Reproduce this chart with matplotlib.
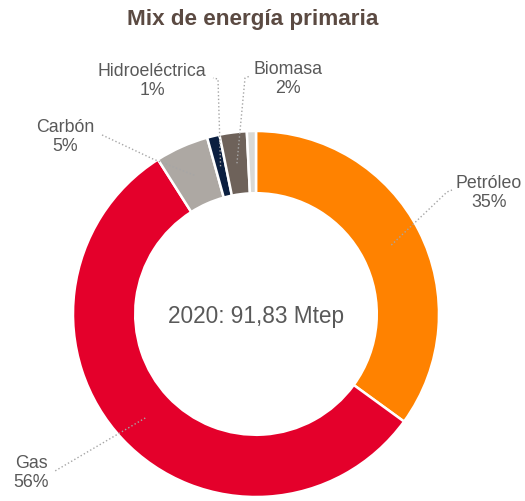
import numpy as np
import matplotlib
matplotlib.use('Agg')
import matplotlib.pyplot as plt

# Data (percent of primary energy, 2020)
labels = ['Petróleo', 'Gas', 'Carbón', 'Hidroeléctrica', 'Biomasa', 'Otros']
values = [35.0, 56.0, 4.7, 1.1, 2.4, 0.8]
pct_text = ['35%', '56%', '5%', '1%', '2%', '']
colors = ['#FF8200', '#E4002B', '#ADA8A3', '#0B1F40', '#6E625A', '#D9D9D6']
total_text = '2020: 91,83 Mtep'

plt.rcParams['font.family'] = ['Liberation Sans', 'DejaVu Sans']

W, H = 525, 502
fig = plt.figure(figsize=(W / 100, H / 100), dpi=100)
ax = fig.add_axes([0, 0, 1, 1])

# pixel geometry of the donut
cx, cy, R = 256, 315, 183


def px(x, y):
    # pixel (from top-left) -> data units (radius 1 = R px)
    return (x - cx) / R, (cy - y) / R


wedges, _ = ax.pie(values, colors=colors, startangle=90, counterclock=False,
                   radius=1, wedgeprops=dict(width=0.34, edgecolor='white', linewidth=1.8))

ax.set_xlim(-cx / R, (W - cx) / R)
ax.set_ylim((cy - H) / R, cy / R)
ax.set_aspect('auto')
ax.axis('off')

# label layout: text centre (px), leader path after the wedge anchor (px)
layout = {
    'Petróleo': ((489, 193), [(447, 193), (452, 191)]),
    'Gas': ((31, 473), [(55, 472)]),
    'Carbón': ((65, 137), [(153, 160), (100, 135)]),
    'Hidroeléctrica': ((152, 81), [(218, 80), (213, 79)]),
    'Biomasa': ((288, 79), [(245, 79), (250, 77)]),
}

line_col = '#A6A6A6'
txt_col = '#595959'
for w, lab, pct in zip(wedges, labels, pct_text):
    if lab not in layout:
        continue
    ang = np.deg2rad((w.theta1 + w.theta2) / 2)
    r0 = 0.83
    pts = [(r0 * np.cos(ang), r0 * np.sin(ang))] + [px(*p) for p in layout[lab][1]]
    xs, ys = zip(*pts)
    ax.plot(xs, ys, color=line_col, linestyle=':', linewidth=1.0)
    tx, ty = px(*layout[lab][0])
    ax.text(tx, ty, lab + '\n' + pct, ha='center', va='center', fontsize=12.8,
            color=txt_col, linespacing=1.1)

ax.text(0, px(0, 317)[1], total_text, ha='center', va='center', fontsize=16.3, color=txt_col)

fig.text(0.482, 1 - 20 / H, 'Mix de energía primaria', ha='center', va='center',
         fontsize=16.2, fontweight='bold', color='#5B4A42')

plt.savefig('out.png', dpi=100)
